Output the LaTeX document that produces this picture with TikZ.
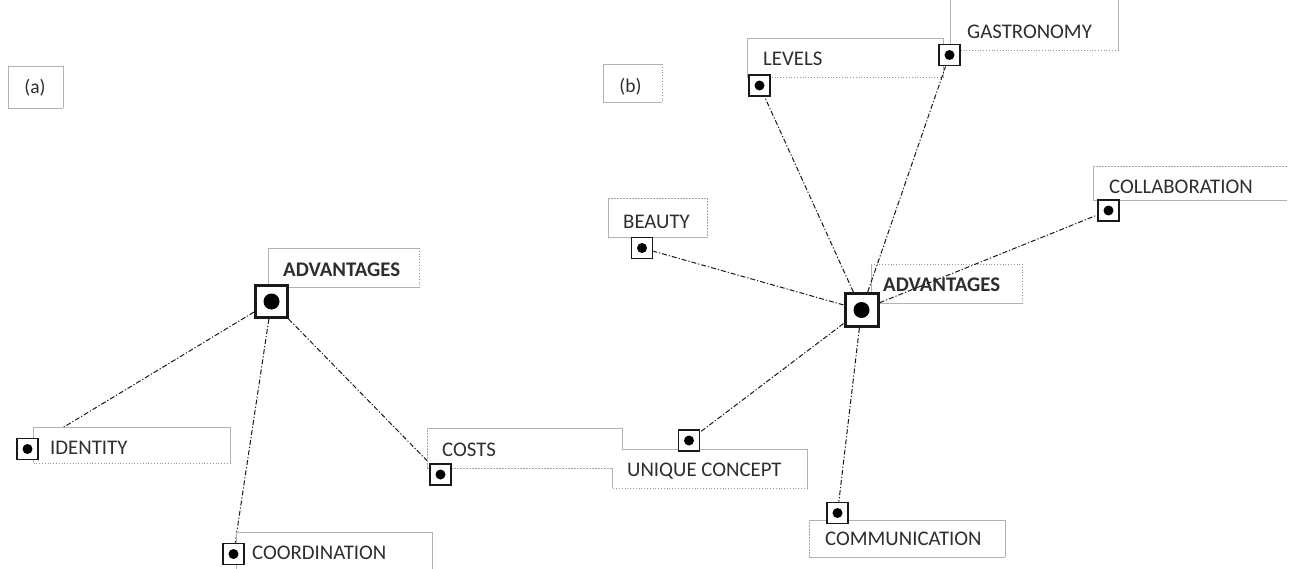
\documentclass[tikz,border=0pt]{standalone}
\usepackage{fontspec}
\setmainfont{Carlito}
\begin{document}
\begin{tikzpicture}[x=1pt,y=-1pt,
  bx/.style={fill=white,inner sep=0pt,anchor=north west},
  lbl/.style={anchor=west,inner sep=0pt,text=black!82,font=\fontsize{20.8}{24}\selectfont},
  blbl/.style={lbl,font=\fontsize{20.8}{24}\selectfont\bfseries},
  sol/.style={draw=black!30,line width=0.8pt},
  dot/.style={draw=black!40,line width=0.8pt,dotted},
  dsh/.style={draw=black!35,line width=0.8pt,dash pattern=on 2pt off 1pt},
  conn/.style={draw=black!90,line width=1pt,dash pattern=on 5pt off 2pt on 1.2pt off 2pt},
  smk/.style={draw=black!90,line width=1.8pt,fill=white,minimum size=21pt,inner sep=0pt,
    path picture={\fill[black] (path picture bounding box.center) circle (5pt);}},
  bmk/.style={draw=black!90,line width=3pt,fill=white,minimum size=32pt,inner sep=0pt,
    path picture={\fill[black] (path picture bounding box.center) circle (8pt);}}
]
\newcommand\bxs[5]{%
  \draw[#2] (#1.north west) -- (#1.north east);
  \draw[#3] (#1.north east) -- (#1.south east);
  \draw[#4] (#1.south east) -- (#1.south west);
  \draw[#5] (#1.south west) -- (#1.north west);}
\useasboundingbox (0,0) rectangle (1293,568);

% marker nodes of (a) (placed first for connector names; redrawn on top later)
\path
  (271.5,301.5) node[bmk] (mA) {}
  (27.5,449) node[smk] (mId) {}
  (233.5,554) node[smk] (mCo) {}
  (440.5,474.5) node[smk] (mCs) {};

% connectors of (a), under the boxes
\draw[conn] (mA) -- (mId);
\draw[conn] (mA) -- (mCo);
\draw[conn] (mA) -- (mCs);

% boxes
\node[bx,minimum width=55pt,minimum height=42pt] (ba) at (8,66) {};
\bxs{ba}{sol}{sol}{sol}{sol}
\node[lbl,anchor=center,font=\fontsize{19.5}{22}\selectfont] (ta) at (35,88) {(a)};

\node[bx,minimum width=59pt,minimum height=38pt] (bb) at (603,64) {};
\bxs{bb}{sol}{dot}{sol}{sol}
\node[lbl,anchor=center,font=\fontsize{19.5}{22}\selectfont] (tb) at (630.5,87) {(b)};

\node[bx,minimum width=151pt,minimum height=39pt] (bAdvA) at (268,248) {};
\bxs{bAdvA}{sol}{dot}{sol}{sol}
\node[blbl] (tAdvA) at (283,270) {ADVANTAGES};

\node[bx,minimum width=197pt,minimum height=36pt] (bId) at (33,427) {};
\bxs{bId}{sol}{sol}{dot}{sol}
\node[lbl] (tId) at (50,448) {IDENTITY};

\node[bx,minimum width=196pt,minimum height=43pt] (bCo) at (236,532) {};
\bxs{bCo}{sol}{sol}{sol}{sol}
\node[lbl] (tCo) at (252,553) {COORDINATION};

\node[bx,minimum width=195pt,minimum height=39pt] (bUc) at (612,449) {};
\node[bx,minimum width=195pt,minimum height=40pt] (bCs) at (427,428) {};
\draw[sol] (bCs.north west) -- (bCs.north east);
\draw[sol] (bCs.north east) -- (bCs.north east |- bUc.north);
\draw[sol] (bCs.north east |- bUc.north) -- (bUc.north east);
\draw[sol] (bUc.north east) -- (bUc.south east);
\draw[dot] (bUc.south east) -- (bUc.south west);
\draw[sol] (bUc.south west) -- (bUc.west |- bCs.south);
\draw[dsh] (bUc.west |- bCs.south) -- (bCs.south west);
\draw[dsh] (bCs.south west) -- (bCs.north west);
\node[lbl] (tCs) at (442,450) {COSTS};
\node[lbl] (tUc) at (627,471) {UNIQUE CONCEPT};

\node[bx,minimum width=196pt,minimum height=39pt] (bLv) at (747,38) {};
\bxs{bLv}{sol}{sol}{dot}{sol}
\node[lbl] (tLv) at (763,59) {LEVELS};

\node[bx,minimum width=168pt,minimum height=60pt] (bGa) at (950,-10) {};
\bxs{bGa}{sol}{sol}{dot}{sol}
\node[lbl] (tGa) at (967,32) {GASTRONOMY};

\node[bx,minimum width=99pt,minimum height=39pt] (bBe) at (608,198) {};
\bxs{bBe}{dsh}{dsh}{sol}{sol}
\node[lbl] (tBe) at (623,222) {BEAUTY};

\node[bx,minimum width=151pt,minimum height=39pt] (bAdvB) at (871,264) {};
\bxs{bAdvB}{dot}{dot}{sol}{sol}
\node[blbl] (tAdvB) at (883,285) {ADVANTAGES};

\node[bx,minimum width=194pt,minimum height=34pt] (bCl) at (1093,166) {};
\draw[dsh] (bCl.north west) -- (bCl.north east);
\draw[sol] (bCl.south east) -- (bCl.south west) -- (bCl.north west);
\node[lbl] (tCl) at (1109,187) {COLLABORATION};

\node[bx,minimum width=196pt,minimum height=37pt] (bCm) at (809,520) {};
\bxs{bCm}{sol}{sol}{sol}{dsh}
\node[lbl] (tCm) at (825,539) {COMMUNICATION};

% markers of (b)
\path
  (861.5,310) node[bmk,minimum size=33pt] (mB) {}
  (689,440.5) node[smk] (mUc) {}
  (759.5,85.5) node[smk] (mLv) {}
  (949.5,55) node[smk] (mGa) {}
  (642,248) node[smk] (mBe) {}
  (1108.5,210.5) node[smk] (mCl) {}
  (837.5,513) node[smk] (mCm) {};

% connectors of (b), over the boxes
\draw[conn] (mB) -- (mLv);
\draw[conn] (mB) -- (mGa);
\draw[conn] (mB) -- (mCl);
\draw[conn] (mB) -- (mBe);
\draw[conn] (mB) -- (mUc);
\draw[conn] (mB) -- (mCm);

% markers of (a) on top
\path
  (271.5,301.5) node[bmk] {}
  (27.5,449) node[smk] {}
  (233.5,554) node[smk] {}
  (440.5,474.5) node[smk] {};
\end{tikzpicture}
\end{document}
